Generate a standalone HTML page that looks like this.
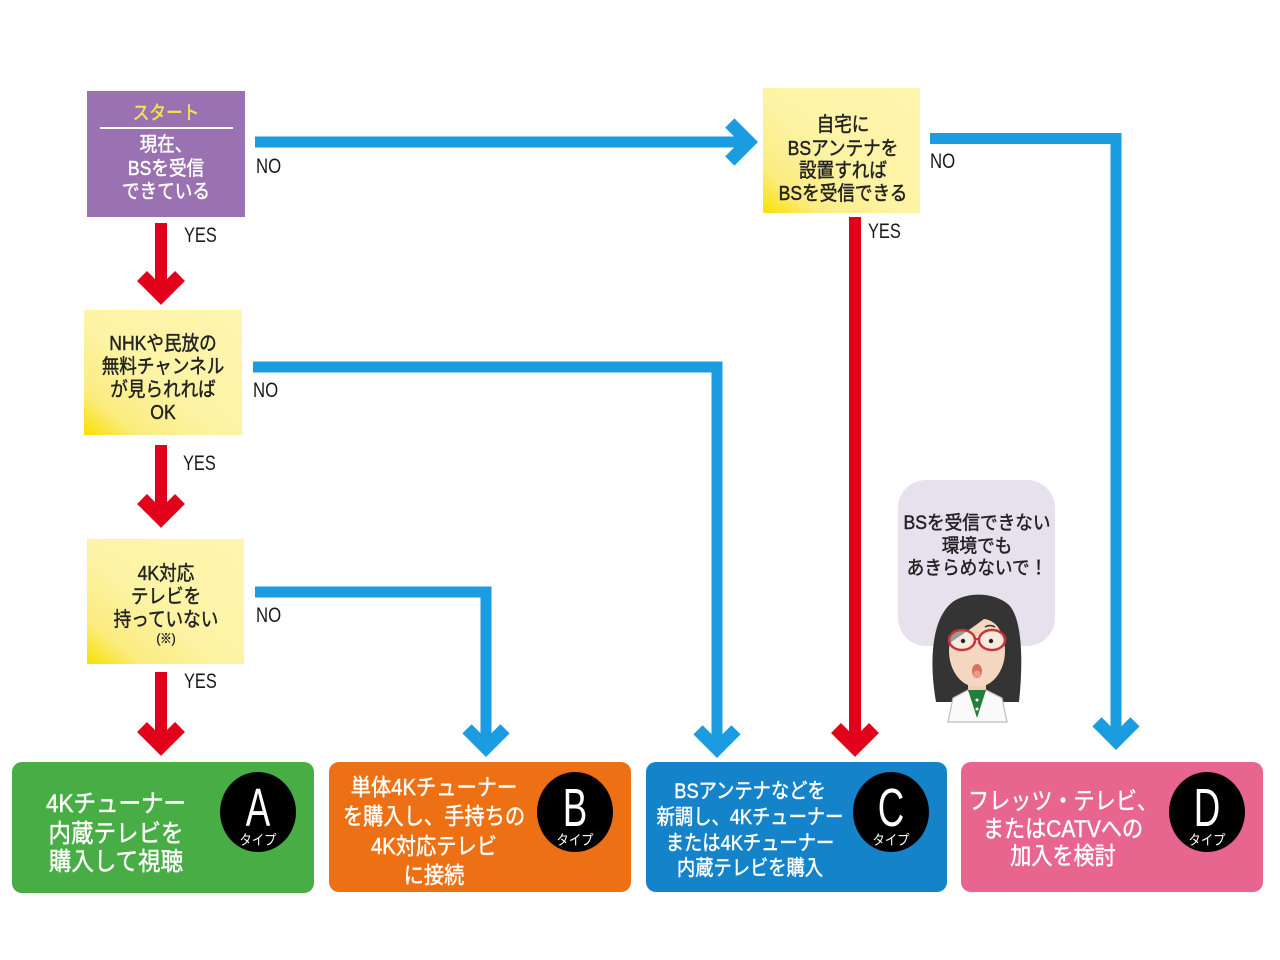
<!DOCTYPE html>
<html>
<head>
<meta charset="utf-8">
<style>
html,body{margin:0;padding:0;background:#fff;}
svg{display:block;}
text{font-family:"Liberation Sans","Noto Sans CJK JP",sans-serif;}
.t{stroke-width:0.45;}
</style>
</head>
<body>
<svg width="1280" height="960" viewBox="0 0 1280 960" xmlns="http://www.w3.org/2000/svg">
<defs>
<linearGradient id="yg" x1="0" y1="1" x2="1" y2="0">
<stop offset="0" stop-color="#f8e000"/>
<stop offset="0.18" stop-color="#fbec80"/>
<stop offset="0.45" stop-color="#fdf3a4"/>
<stop offset="1" stop-color="#fef6b0"/>
</linearGradient>
</defs>
<rect width="1280" height="960" fill="#fff"/>

<!-- ===== Connectors (blue) ===== -->
<g fill="none" stroke="#1b9be0" stroke-width="11" stroke-linejoin="miter">
  <path d="M255 142 H749"/>
  <path d="M930 138.5 H1116 V741"/>
  <path d="M253 367 H717 V749"/>
  <path d="M255 592 H486 V748"/>
</g>
<g fill="none" stroke="#1b9be0" stroke-width="13" stroke-linejoin="miter" stroke-miterlimit="4">
  <polyline points="729.8,123 748.8,142 729.8,161"/>
  <polyline points="1097,721.8 1116,740.8 1135,721.8"/>
  <polyline points="698,729.8 717,748.8 736,729.8"/>
  <polyline points="467,728.8 486,747.8 505,728.8"/>
</g>

<!-- ===== Connectors (red) ===== -->
<g fill="none" stroke="#e2011a" stroke-width="12">
  <path d="M161 223 V296"/>
  <path d="M161 445 V519"/>
  <path d="M161 672 V747"/>
  <path d="M855 217 V748"/>
</g>
<g fill="none" stroke="#e2011a" stroke-width="14" stroke-linejoin="miter" stroke-miterlimit="4">
  <polyline points="142,276 161,295 180,276"/>
  <polyline points="142,499 161,518 180,499"/>
  <polyline points="142,727 161,746 180,727"/>
  <polyline points="836,728 855,747 874,728"/>
</g>

<!-- ===== Start box ===== -->
<rect x="87" y="91" width="158" height="126" fill="#9a72b1"/>
<text class="t" transform="translate(166,119) scale(0.88,1)" text-anchor="middle" font-size="19" fill="#f5e34b" stroke="#f5e34b">スタート</text>
<line x1="100" y1="128" x2="233" y2="128" stroke="#fff" stroke-width="2"/>
<g class="t" fill="#fff" stroke="#fff" font-size="20" text-anchor="middle">
  <text transform="translate(166,151) scale(0.88,1)">現在、</text>
  <text transform="translate(166,175) scale(0.88,1)">BSを受信</text>
  <text transform="translate(166,198) scale(0.88,1)">できている</text>
</g>

<!-- ===== Q2 ===== -->
<rect x="84" y="310" width="158" height="125" fill="url(#yg)"/>
<g class="t" fill="#222" stroke="#222" font-size="20" text-anchor="middle">
  <text transform="translate(163,350) scale(0.88,1)">NHKや民放の</text>
  <text transform="translate(163,373) scale(0.88,1)">無料チャンネル</text>
  <text transform="translate(163,396) scale(0.88,1)">が見られれば</text>
  <text transform="translate(163,419) scale(0.88,1)">OK</text>
</g>

<!-- ===== Q3 ===== -->
<rect x="87" y="539" width="157" height="125" fill="url(#yg)"/>
<g class="t" fill="#222" stroke="#222" font-size="20" text-anchor="middle">
  <text transform="translate(166,580) scale(0.88,1)">4K対応</text>
  <text transform="translate(166,603) scale(0.88,1)">テレビを</text>
  <text transform="translate(166,626) scale(0.88,1)">持っていない</text>
  <text transform="translate(166,643) scale(0.88,1)" font-size="13">(※)</text>
</g>

<!-- ===== Top-right Q ===== -->
<rect x="763" y="88" width="157" height="125" fill="url(#yg)"/>
<g class="t" fill="#222" stroke="#222" font-size="20" text-anchor="middle">
  <text transform="translate(843,131) scale(0.88,1)">自宅に</text>
  <text transform="translate(843,155) scale(0.88,1)">BSアンテナを</text>
  <text transform="translate(843,177) scale(0.88,1)">設置すれば</text>
  <text transform="translate(843,200) scale(0.88,1)">BSを受信できる</text>
</g>

<!-- ===== YES / NO labels ===== -->
<g fill="#1a1a1a" font-size="21">
  <text transform="translate(256,173) scale(0.8,1)">NO</text>
  <text transform="translate(184,242) scale(0.78,1)">YES</text>
  <text transform="translate(253,397) scale(0.8,1)">NO</text>
  <text transform="translate(183,470) scale(0.78,1)">YES</text>
  <text transform="translate(256,622) scale(0.8,1)">NO</text>
  <text transform="translate(184,688) scale(0.78,1)">YES</text>
  <text transform="translate(868,238) scale(0.78,1)">YES</text>
  <text transform="translate(930,168) scale(0.8,1)">NO</text>
</g>

<!-- ===== Speech bubble & character ===== -->
<rect x="898" y="480" width="157" height="166" rx="28" ry="28" fill="#e7e1ee"/>
<g class="t" fill="#222" stroke="#222" font-size="19" text-anchor="middle">
  <text transform="translate(977,529) scale(0.93,1)">BSを受信できない</text>
  <text transform="translate(977,552) scale(0.93,1)">環境でも</text>
  <text transform="translate(977,574) scale(0.93,1)">あきらめないで！</text>
</g>
<g>
  <path d="M936,702 C929,662 931,617 954,601 C970,591 996,593 1009,605 C1023,620 1023,665 1019,702 Z" fill="#343434"/>
  <rect x="968" y="680" width="18" height="14" fill="#f1cdb3"/>
  <ellipse cx="977" cy="651" rx="28" ry="36" fill="#f5d6c1"/>
  <path d="M947,645 C945,617 960,603 980,603 C999,603 1010,616 1008,645 C1004,630 994,620 984,619 C972,628 960,636 947,645 Z" fill="#343434"/>
  <path d="M960,627 Q965,624 970,627" stroke="#333" stroke-width="1.5" fill="none"/>
  <path d="M985,627 Q990,624 995,627" stroke="#333" stroke-width="1.5" fill="none"/>
  <ellipse cx="962" cy="640" rx="13" ry="10" fill="#fff" fill-opacity="0.5" stroke="#c8343a" stroke-width="2.5"/>
  <ellipse cx="992" cy="640" rx="13" ry="10" fill="#fff" fill-opacity="0.5" stroke="#c8343a" stroke-width="2.5"/>
  <line x1="975" y1="639" x2="979" y2="639" stroke="#c8343a" stroke-width="2"/>
  <circle cx="963" cy="641" r="2.2" fill="#222"/>
  <circle cx="991" cy="641" r="2.2" fill="#222"/>
  <ellipse cx="977" cy="671" rx="5" ry="7" fill="#d9705e"/>
  <ellipse cx="977" cy="674" rx="3.5" ry="3.5" fill="#f09a8a"/>
  <path d="M948,722 L953,698 L968,690 L977,704 L986,690 L1002,698 L1007,722 Z" fill="#fafafa" stroke="#bdbdbd" stroke-width="1.2"/>
  <path d="M968,690 L986,690 L977,718 Z" fill="#1f7f3b"/>
  <circle cx="977" cy="700" r="1.5" fill="#fff"/>
  <circle cx="977" cy="709" r="1.5" fill="#fff"/>
</g>

<!-- ===== Result boxes ===== -->
<rect x="12" y="762" width="302" height="131" rx="10" ry="10" fill="#47ad44"/>
<rect x="329" y="762" width="302" height="130" rx="10" ry="10" fill="#ee7014"/>
<rect x="646" y="762" width="301" height="130" rx="10" ry="10" fill="#1583c9"/>
<rect x="961" y="762" width="302" height="130" rx="10" ry="10" fill="#e8658f"/>

<g class="t" fill="#fff" stroke="#fff" text-anchor="middle">
  <g font-size="25">
    <text transform="translate(116,812) scale(0.9,1)">4Kチューナー</text>
    <text transform="translate(116,842) scale(0.9,1)">内蔵テレビを</text>
    <text transform="translate(116,870) scale(0.9,1)">購入して視聴</text>
  </g>
  <g font-size="23">
    <text transform="translate(434,795) scale(0.88,1)">単体4Kチューナー</text>
    <text transform="translate(434,824) scale(0.88,1)">を購入し、手持ちの</text>
    <text transform="translate(434,854) scale(0.88,1)">4K対応テレビ</text>
    <text transform="translate(434,883) scale(0.88,1)">に接続</text>
  </g>
  <g font-size="21">
    <text transform="translate(750,798) scale(0.87,1)">BSアンテナなどを</text>
    <text transform="translate(750,824) scale(0.87,1)">新調し、4Kチューナー</text>
    <text transform="translate(750,850) scale(0.87,1)">または4Kチューナー</text>
    <text transform="translate(750,875) scale(0.87,1)">内蔵テレビを購入</text>
  </g>
  <g font-size="24">
    <text transform="translate(1063,809) scale(0.88,1)">フレッツ・テレビ、</text>
    <text transform="translate(1063,837) scale(0.88,1)">またはCATVへの</text>
    <text transform="translate(1063,864) scale(0.88,1)">加入を検討</text>
  </g>
</g>

<!-- Type circles -->
<g>
  <ellipse cx="258" cy="812" rx="38" ry="40" fill="#000"/>
  <ellipse cx="575" cy="812" rx="38" ry="40" fill="#000"/>
  <ellipse cx="891" cy="812" rx="38" ry="40" fill="#000"/>
  <ellipse cx="1207" cy="812" rx="38" ry="40" fill="#000"/>
</g>
<g fill="#fff" text-anchor="middle">
  <g font-size="54">
    <text transform="translate(258,826) scale(0.68,1)">A</text>
    <text transform="translate(575,826) scale(0.68,1)">B</text>
    <text transform="translate(891,826) scale(0.68,1)">C</text>
    <text transform="translate(1207,826) scale(0.68,1)">D</text>
  </g>
  <g font-size="14">
    <text transform="translate(258,845) scale(0.88,1)">タイプ</text>
    <text transform="translate(575,845) scale(0.88,1)">タイプ</text>
    <text transform="translate(891,845) scale(0.88,1)">タイプ</text>
    <text transform="translate(1207,845) scale(0.88,1)">タイプ</text>
  </g>
</g>
</svg>
</body>
</html>
